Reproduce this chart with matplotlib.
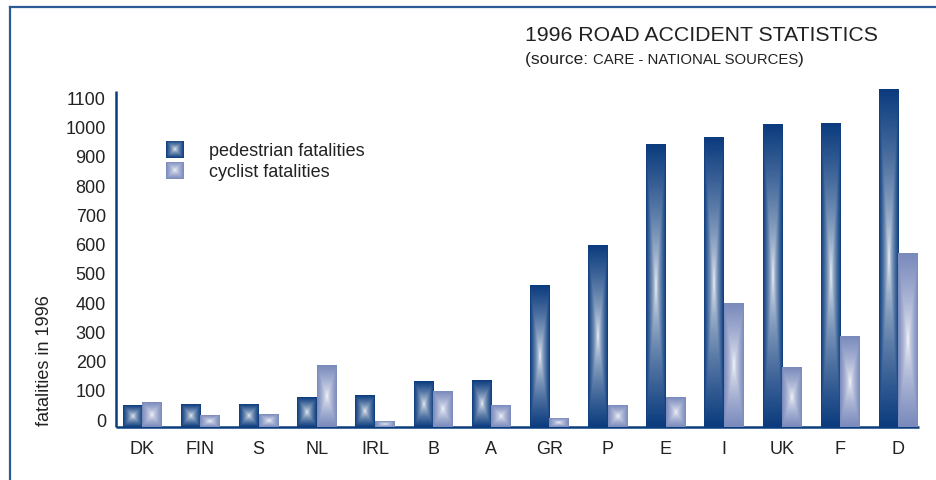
import numpy as np
import matplotlib
matplotlib.use("Agg")
import matplotlib.pyplot as plt
from matplotlib.transforms import ScaledTranslation

countries = ["DK", "FIN", "S", "NL", "IRL", "B", "A", "GR", "P", "E", "I", "UK", "F", "D"]
pedestrian = [74, 77, 77, 101, 108, 156, 159, 484, 620, 966, 990, 1034, 1038, 1154]
cyclist = [84, 39, 43, 210, 19, 121, 74, 29, 74, 101, 422, 203, 309, 593]
yticks = [0, 100, 200, 300, 400, 500, 600, 700, 800, 900, 1000, 1100]

W, H = 937, 480
plt.rcParams['font.family'] = ['Liberation Sans', 'DejaVu Sans']
TXT = '#222222'
PED_EDGE = np.array([12, 60, 126]) / 255.0
CYC_EDGE = np.array([122, 138, 188]) / 255.0
NAVY = '#0b3c7e'


def pillow(edge, n=121, p=0.6):
    u = np.linspace(-1, 1, n)
    U, V = np.meshgrid(u, u)
    t = np.maximum(np.abs(U), np.abs(V))
    f = (t ** p)[..., None]
    return np.ones(3) * (1 - f) + edge * f


def fx(px):
    return px / W


def fy(py):
    return 1 - py / H


fig = plt.figure(figsize=(W / 100, H / 100), dpi=100)

# outer frame (top and left edges visible)
fig.add_artist(plt.Line2D([fx(10), 1.0], [fy(7.3), fy(7.3)], color='#2b5a97', lw=1.6, transform=fig.transFigure))
fig.add_artist(plt.Line2D([fx(10), fx(10)], [fy(7.3), 0.0], color='#2b5a97', lw=1.6, transform=fig.transFigure))

px_per_unit = 0.2925
base_px = 427.0
ymax = 1200
XL = (-0.452, 13.353)
ax = fig.add_axes([fx(116), fy(base_px), fx(919) - fx(116), ymax * px_per_unit / H])
ax.set_facecolor('none')

x = np.arange(len(countries))
w = 0.335
ped_bars = ax.bar(x - w / 2, pedestrian, w, facecolor='none', edgecolor='none')
cyc_bars = ax.bar(x + w / 2, cyclist, w, facecolor='none', edgecolor='none')
img_p = pillow(PED_EDGE)
img_c = pillow(CYC_EDGE)
for bars, img in ((ped_bars, img_p), (cyc_bars, img_c)):
    for r in bars:
        x0, y0 = r.get_x(), r.get_y()
        ax.imshow(img, extent=[x0, x0 + r.get_width(), y0, y0 + r.get_height()],
                  origin='lower', aspect='auto', interpolation='bilinear', zorder=3, clip_on=False)

ax.set_xlim(*XL)
ax.set_ylim(0, ymax)

for s in ['top', 'right']:
    ax.spines[s].set_visible(False)
for s in ['left', 'bottom']:
    ax.spines[s].set_color(NAVY)
    ax.spines[s].set_linewidth(1.8)
    ax.spines[s].set_zorder(2)
    ax.spines[s].set_capstyle('butt')
ax.spines['left'].set_bounds(0, (base_px - 91) / px_per_unit)
ax.spines['bottom'].set_bounds(*XL)

ax.set_yticks(yticks)
ax.set_yticklabels([str(v) for v in yticks])
ax.set_xticks(x)
ax.set_xticklabels(countries)
ax.tick_params(axis='y', length=0, pad=7.2, labelsize=13, labelcolor=TXT)
ax.tick_params(axis='x', length=0, pad=10.2, labelsize=13, labelcolor=TXT)
off = ScaledTranslation(0, 4.9 / 72, fig.dpi_scale_trans)
for lab in ax.get_yticklabels():
    lab.set_transform(lab.get_transform() + off)

# y label
fig.text(fx(45), fy(361), 'fatalities in 1996', rotation=90, ha='center', va='center',
         fontsize=13, color=TXT)

# title
t1 = fig.text(fx(525), fy(41), '1996 ROAD ACCIDENT STATISTICS', ha='left', va='baseline',
              fontsize=15.3, color=TXT)
s1 = fig.text(fx(525), fy(64), '(source: ', ha='left', va='baseline', fontsize=12.5, color=TXT)
s2 = fig.text(0, 0, 'CARE - NATIONAL SOURCES', fontsize=10.7, color=TXT)
s2.set_visible(False)
fig.canvas.draw()
r = fig.canvas.get_renderer()
bb1 = s1.get_window_extent(r)
s2.set_visible(True)
s2.set_position((bb1.x1 / W, fy(64)))
s2.set_va('baseline')
fig.canvas.draw()
bb2 = s2.get_window_extent(r)
fig.text(bb2.x1 / W, fy(64), ')', ha='left', va='baseline', fontsize=12.5, color=TXT)

# legend
for (top, img, label, base) in ((140.5, img_p, 'pedestrian fatalities', 156),
                                (161.5, img_c, 'cyclist fatalities', 177)):
    lax = fig.add_axes([fx(166), fy(top + 18), 18 / W, 18 / H])
    lax.imshow(img, origin='lower', aspect='auto', interpolation='bilinear')
    lax.axis('off')
    fig.text(fx(209), fy(base), label, ha='left', va='baseline', fontsize=13, color=TXT)

fig.savefig('out.png', dpi=100)
